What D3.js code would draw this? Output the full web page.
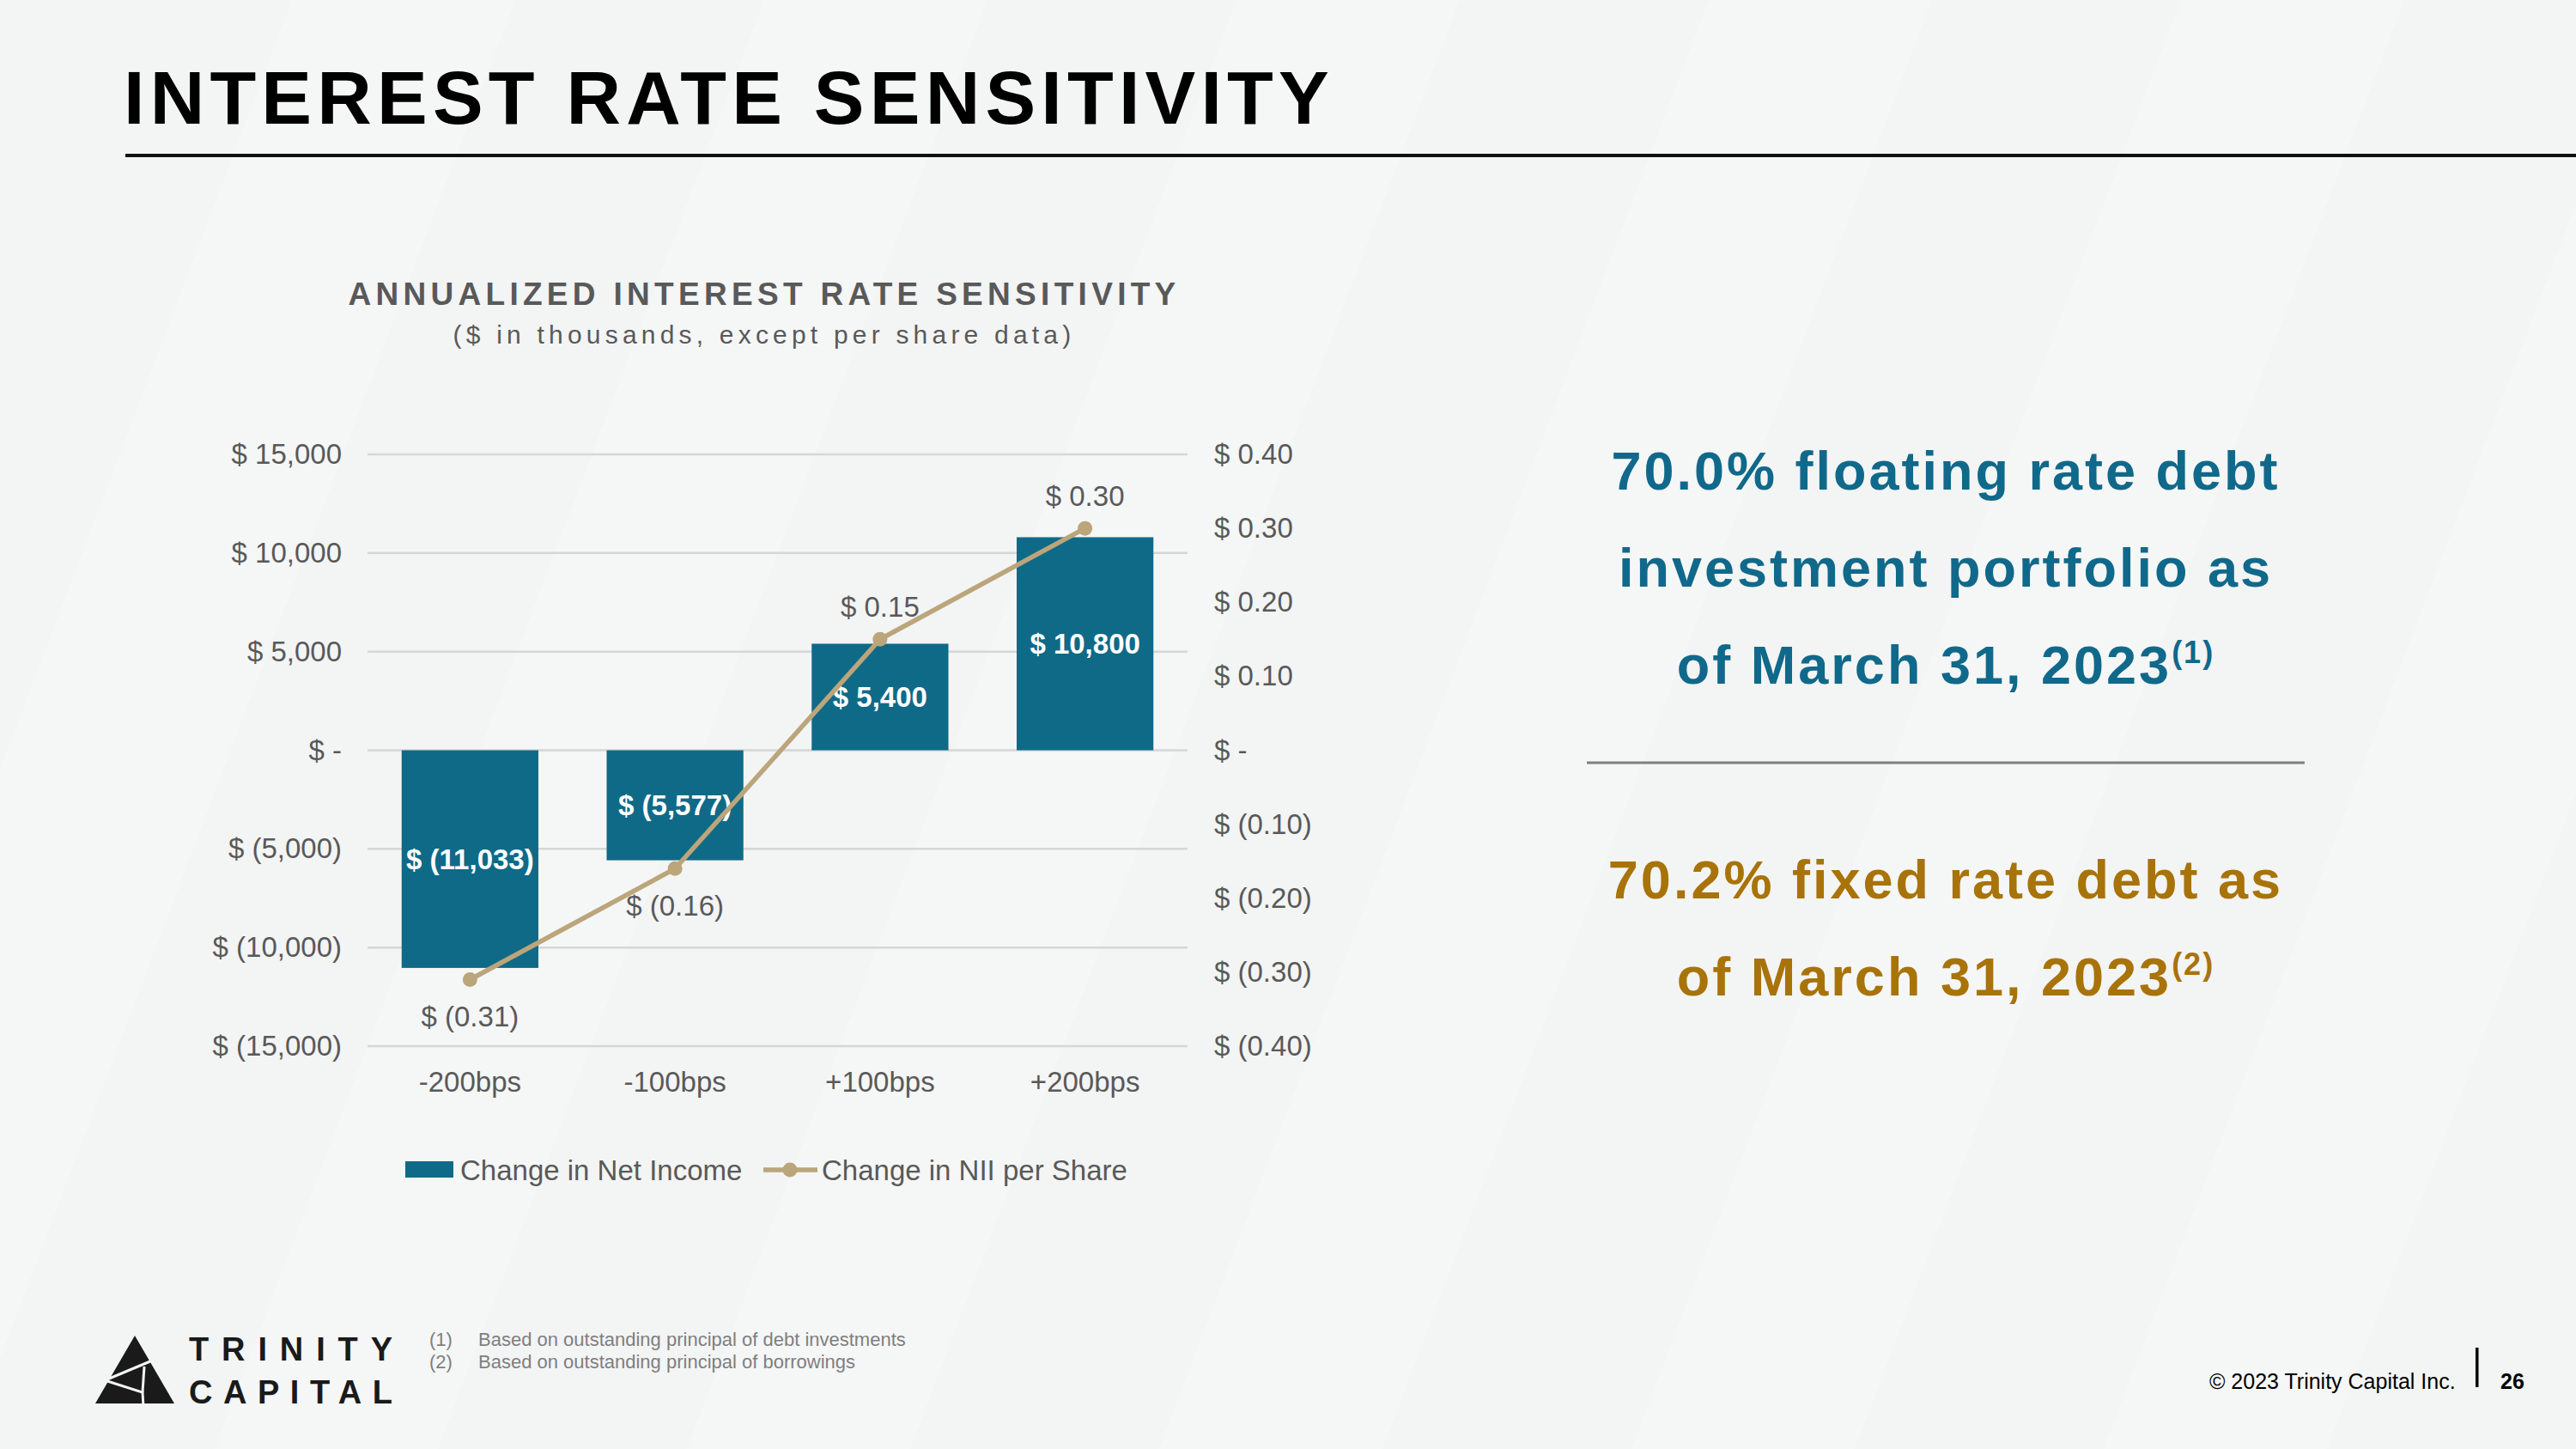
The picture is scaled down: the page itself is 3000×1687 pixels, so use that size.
<!DOCTYPE html>
<html>
<head>
<meta charset="utf-8">
<script src="https://cdn.jsdelivr.net/npm/d3@7"></script>
<style>
  html, body { margin: 0; padding: 0; background: #f3f4f4; }
  svg { display: block; }
  text { font-family: Arial, "Liberation Sans", sans-serif; }
</style>
</head>
<body>
<svg id="chart" width="3000" height="1687"></svg>
<script>
// ---- data ----
const categories = ["-200bps", "-100bps", "+100bps", "+200bps"];
const netIncome = [-11033, -5577, 5400, 10800];
const niiPerShare = [-0.31, -0.16, 0.15, 0.30];
const leftTicks = [15000, 10000, 5000, 0, -5000, -10000, -15000];
const rightTicks = [0.40, 0.30, 0.20, 0.10, 0, -0.10, -0.20, -0.30, -0.40];
const seriesNames = ["Change in Net Income", "Change in NII per Share"];
const pageTitle = "INTEREST RATE SENSITIVITY";
const chartTitle = "ANNUALIZED INTEREST RATE SENSITIVITY";
const chartSubtitle = "($ in thousands, except per share data)";
const floatLines = ["70.0% floating rate debt", "investment portfolio as", "of March 31, 2023"];
const fixedLines = ["70.2% fixed rate debt as", "of March 31, 2023"];
const footnotes = [["(1)", "Based on outstanding principal of debt investments"], ["(2)", "Based on outstanding principal of borrowings"]];

const BAR = "#0f6a88", LINE = "#bba57a", TEAL = "#10698a", GOLD = "#a87309", GREY = "#595959";
const FS = 33;

const svg = d3.select("#chart");

// ---- background stripes ----
const bg = svg.append("g");
bg.append("rect").attr("width", 3000).attr("height", 1687).attr("fill", "#f3f4f4");
const stripeStarts = [-300, 250, 800, 1350, 1900, 2450, 3000];
bg.selectAll("polygon.stripe").data(stripeStarts).join("polygon")
  .attr("points", d => `${d},1687 ${d + 260},1687 ${d + 900},0 ${d + 640},0`)
  .attr("fill", "#ffffff").attr("opacity", 0.22);

// ---- page title ----
svg.append("text").attr("x", 144).attr("y", 144)
  .attr("font-size", 88).attr("font-weight", 700).attr("fill", "#000")
  .attr("letter-spacing", 6.2).text(pageTitle);
svg.append("line").attr("x1", 146).attr("x2", 3000).attr("y1", 181).attr("y2", 181)
  .attr("stroke", "#111").attr("stroke-width", 4);

// ---- chart titles ----
svg.append("text").attr("x", 890).attr("y", 355).attr("text-anchor", "middle")
  .attr("font-size", 37).attr("font-weight", 700).attr("fill", GREY)
  .attr("letter-spacing", 5.3).text(chartTitle);
svg.append("text").attr("x", 890).attr("y", 400).attr("text-anchor", "middle")
  .attr("font-size", 30).attr("fill", GREY)
  .attr("letter-spacing", 5.2).text(chartSubtitle);

// ---- scales ----
const x = d3.scaleBand().domain(categories).range([428, 1383]).paddingInner(0.333).paddingOuter(0.1665);
const y = d3.scaleLinear().domain([-15000, 15000]).range([1218, 529]);
const y2 = d3.scaleLinear().domain([-0.4, 0.4]).range([1218, 529]);

const fmtLeft = v => v === 0 ? "$ -" : (v < 0 ? `$ (${d3.format(",")(-v)})` : `$ ${d3.format(",")(v)}`);
const fmtRight = v => Math.abs(v) < 1e-9 ? "$ -" : (v < 0 ? `$ (${(-v).toFixed(2)})` : `$ ${v.toFixed(2)}`);

// gridlines
svg.append("g").selectAll("line").data(leftTicks).join("line")
  .attr("x1", 428).attr("x2", 1383).attr("y1", d => y(d)).attr("y2", d => y(d))
  .attr("stroke", "#d6d6d6").attr("stroke-width", 2.5);

// axes
const styleAxis = g => {
  g.select(".domain").remove();
  g.selectAll(".tick line").remove();
  g.selectAll("text").attr("font-size", FS).attr("fill", GREY)
    .attr("font-family", 'Arial, "Liberation Sans", sans-serif');
};
svg.append("g").attr("transform", "translate(428,0)")
  .call(d3.axisLeft(y).tickValues(leftTicks).tickFormat(fmtLeft).tickSize(0).tickPadding(30))
  .call(styleAxis);
svg.append("g").attr("transform", "translate(1383,0)")
  .call(d3.axisRight(y2).tickValues(rightTicks).tickFormat(fmtRight).tickSize(0).tickPadding(31))
  .call(styleAxis);
svg.append("g").attr("transform", "translate(0,1218)")
  .call(d3.axisBottom(x).tickSize(0).tickPadding(30))
  .call(styleAxis);

// bars
const data = categories.map((c, i) => ({ c, v: netIncome[i], s: niiPerShare[i] }));
svg.append("g").selectAll("rect").data(data).join("rect")
  .attr("x", d => x(d.c)).attr("width", x.bandwidth())
  .attr("y", d => Math.min(y(d.v), y(0))).attr("height", d => Math.abs(y(d.v) - y(0)))
  .attr("fill", BAR);
svg.append("g").selectAll("text").data(data).join("text")
  .attr("x", d => x(d.c) + x.bandwidth() / 2).attr("y", d => (y(d.v) + y(0)) / 2)
  .attr("dy", "0.36em").attr("text-anchor", "middle")
  .attr("font-size", FS).attr("font-weight", 700).attr("fill", "#fff")
  .text(d => fmtLeft(d.v));

// line
const cx = d => x(d.c) + x.bandwidth() / 2;
svg.append("path").datum(data)
  .attr("d", d3.line().x(cx).y(d => y2(d.s)))
  .attr("fill", "none").attr("stroke", LINE).attr("stroke-width", 5.5);
svg.append("g").selectAll("circle").data(data).join("circle")
  .attr("cx", cx).attr("cy", d => y2(d.s)).attr("r", 8.5).attr("fill", LINE);
svg.append("g").selectAll("text").data(data).join("text")
  .attr("x", cx).attr("y", d => y2(d.s) + (d.s >= 0 ? -26 : 55))
  .attr("text-anchor", "middle").attr("font-size", FS).attr("fill", GREY)
  .text(d => fmtRight(d.s));

// legend
const lg = svg.append("g");
lg.append("rect").attr("x", 472).attr("y", 1352).attr("width", 56).attr("height", 19).attr("fill", BAR);
lg.append("text").attr("x", 536).attr("y", 1374).attr("font-size", FS).attr("fill", GREY).text(seriesNames[0]);
lg.append("line").attr("x1", 889).attr("x2", 952).attr("y1", 1362).attr("y2", 1362)
  .attr("stroke", LINE).attr("stroke-width", 5.5);
lg.append("circle").attr("cx", 920).attr("cy", 1362).attr("r", 8.5).attr("fill", LINE);
lg.append("text").attr("x", 957).attr("y", 1374).attr("font-size", FS).attr("fill", GREY).text(seriesNames[1]);

// ---- right side statements ----
const rightText = (lines, baselines, color, sup) => {
  lines.forEach((t, i) => {
    const tx = svg.append("text").attr("x", 2266).attr("y", baselines[i]).attr("text-anchor", "middle")
      .attr("font-size", 63).attr("font-weight", 700).attr("fill", color).attr("letter-spacing", 3);
    tx.append("tspan").text(t);
    if (i === lines.length - 1) {
      tx.append("tspan").attr("font-size", 36).attr("dy", -24).attr("letter-spacing", 2).text(sup);
    }
  });
};
rightText(floatLines, [570, 683, 796], TEAL, "(1)");
rightText(fixedLines, [1046, 1159], GOLD, "(2)");
svg.append("line").attr("x1", 1848).attr("x2", 2684).attr("y1", 888).attr("y2", 888)
  .attr("stroke", "#7f7f7f").attr("stroke-width", 3);

// ---- footer ----
const logo = svg.append("g");
logo.append("polygon").attr("points", "157,1555 111,1634 203,1634").attr("fill", "#1a1a1a");
logo.append("polyline").attr("points", "120,1608 182,1582").attr("stroke", "#f3f4f4").attr("stroke-width", 3).attr("fill", "none");
logo.append("polyline").attr("points", "122,1607 166,1621 167,1638").attr("stroke", "#f3f4f4").attr("stroke-width", 3).attr("fill", "none");
logo.append("line").attr("x1", 166).attr("y1", 1621).attr("x2", 168).attr("y2", 1591).attr("stroke", "#f3f4f4").attr("stroke-width", 3);
logo.append("text").attr("x", 220).attr("y", 1584).attr("font-size", 38).attr("font-weight", 600)
  .attr("font-family", '"Open Sans", Lato, sans-serif').attr("fill", "#1a1a1a")
  .attr("textLength", 237).attr("lengthAdjust", "spacing").text("TRINITY");
logo.append("text").attr("x", 220).attr("y", 1634).attr("font-size", 38).attr("font-weight", 600)
  .attr("font-family", '"Open Sans", Lato, sans-serif').attr("fill", "#1a1a1a")
  .attr("textLength", 237).attr("lengthAdjust", "spacing").text("CAPITAL");

const fn = svg.append("g");
footnotes.forEach((f, i) => {
  fn.append("text").attr("x", 500).attr("y", 1567 + i * 26).attr("font-size", 22).attr("fill", "#7f7f7f").text(f[0]);
  fn.append("text").attr("x", 557).attr("y", 1567 + i * 26).attr("font-size", 22).attr("fill", "#7f7f7f").text(f[1]);
});

svg.append("text").attr("x", 2573).attr("y", 1617).attr("font-size", 25).attr("fill", "#000").text("© 2023 Trinity Capital Inc.");
svg.append("rect").attr("x", 2883).attr("y", 1569).attr("width", 3.5).attr("height", 46).attr("fill", "#000");
svg.append("text").attr("x", 2912).attr("y", 1617).attr("font-size", 25).attr("font-weight", 700).attr("fill", "#000").text("26");
</script>
</body>
</html>
